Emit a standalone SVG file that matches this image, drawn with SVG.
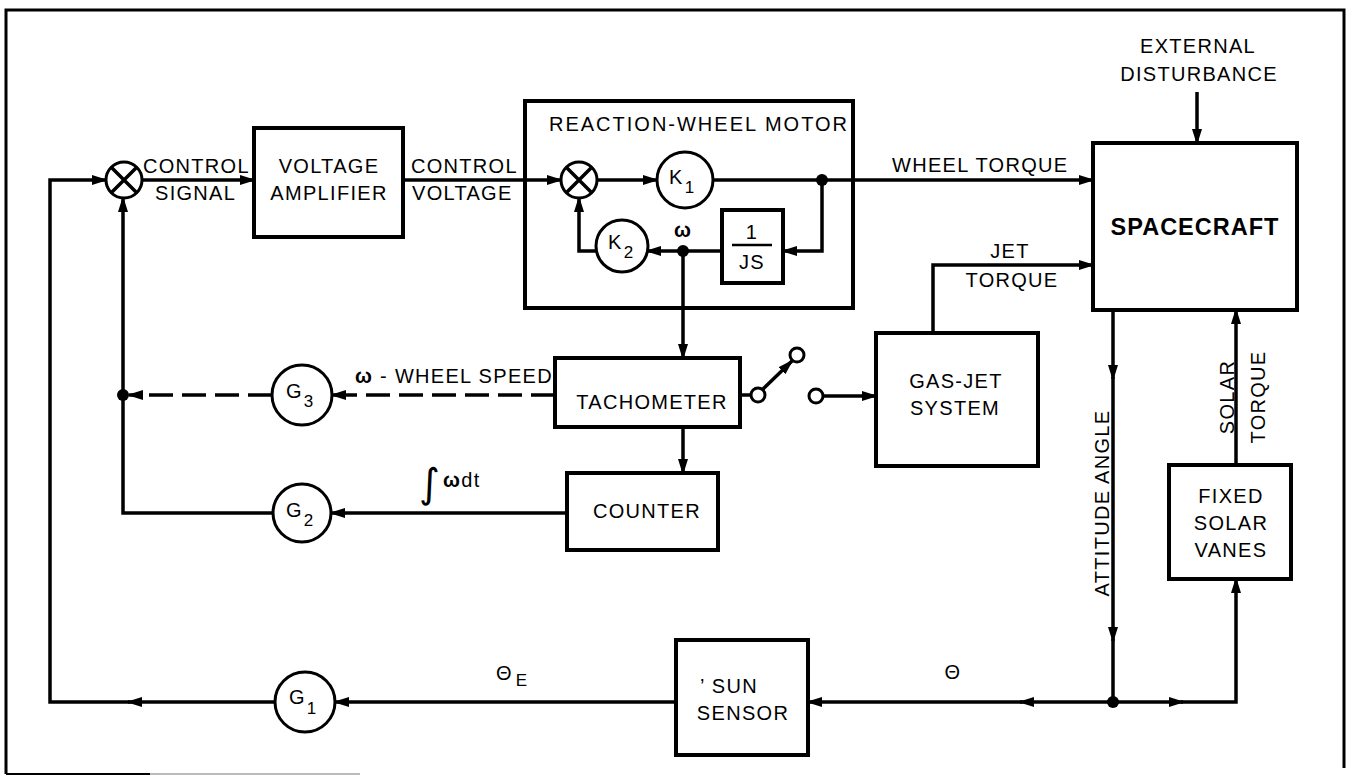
<svg xmlns="http://www.w3.org/2000/svg" width="1353" height="776" viewBox="0 0 1353 776">
<style>
.ln{fill:none;stroke:#000;stroke-width:3.5}
.dash{stroke-dasharray:24 9}
.box{fill:#fff;stroke:#000;stroke-width:4}
.cir{fill:#fff;stroke:#000;stroke-width:3}
.sw{fill:#fff;stroke:#000;stroke-width:3}
.t{font-family:"Liberation Sans",Arial,sans-serif;font-size:20px;letter-spacing:1.3px;fill:#000}
.c{text-anchor:middle}
.sub{font-size:17px}
.b{font-weight:bold}
</style>
<defs>
<marker id="a" viewBox="0 0 16 12" refX="14" refY="6" markerWidth="16" markerHeight="12" markerUnits="userSpaceOnUse" orient="auto"><path d="M0,1 L16,6 L0,11 z" fill="#000"/></marker>
</defs>
<rect width="1353" height="776" fill="#fff"/>
<g id="frame">
<path d="M6,774 L6,10 L1344,10 L1344,768" fill="none" stroke="#000" stroke-width="3"/>
<line x1="6" y1="774" x2="150" y2="774" stroke="#000" stroke-width="2"/>
<line x1="150" y1="774" x2="360" y2="774" stroke="#bbb" stroke-width="2"/>
</g>
<g id="connectors">
<path class="ln" d="M275,702 L128,702" marker-end="url(#a)"/>
<path class="ln" d="M130,702 L50,702 L50,180 L106,180" marker-end="url(#a)"/>
<path class="ln" d="M142,180 L254,180" marker-end="url(#a)"/>
<path class="ln" d="M403,180 L561,180" marker-end="url(#a)"/>
<path class="ln" d="M597,180 L657,180" marker-end="url(#a)"/>
<path class="ln" d="M713,180 L1093,180" marker-end="url(#a)"/>
<path class="ln" d="M822,180 L822,251 L783,251" marker-end="url(#a)"/>
<path class="ln" d="M722,251 L647,251" marker-end="url(#a)"/>
<path class="ln" d="M597,251 L579,251 L579,198" marker-end="url(#a)"/>
<path class="ln" d="M683,251 L683,358" marker-end="url(#a)"/>
<path class="ln" d="M683,427 L683,473" marker-end="url(#a)"/>
<path class="ln" d="M740,395 L751,395"/>
<path class="ln" d="M763,389 L792,361" marker-end="url(#a)"/>
<path class="ln" d="M823,396 L876,396" marker-end="url(#a)"/>
<path class="ln" d="M933,333 L933,265 L1093,265" marker-end="url(#a)"/>
<path class="ln" d="M1197,92 L1197,143" marker-end="url(#a)"/>
<path class="ln" d="M1113,310 L1113,379" marker-end="url(#a)"/>
<path class="ln" d="M1113,377 L1113,641" marker-end="url(#a)"/>
<path class="ln" d="M1113,639 L1113,702"/>
<path class="ln" d="M1113,702 L1020,702" marker-end="url(#a)"/>
<path class="ln" d="M1022,702 L808,702" marker-end="url(#a)"/>
<path class="ln" d="M1113,702 L1183,702" marker-end="url(#a)"/>
<path class="ln" d="M1181,702 L1236,702 L1236,579" marker-end="url(#a)"/>
<path class="ln" d="M1236,465 L1236,310" marker-end="url(#a)"/>
<path class="ln" d="M676,702 L335,702" marker-end="url(#a)"/>
<path class="ln" d="M567,513 L331,513" marker-end="url(#a)"/>
<path class="ln" d="M273,513 L123,513 L123,198" marker-end="url(#a)"/>
<path class="ln dash" d="M555,395 L332,395" marker-end="url(#a)"/>
<path class="ln dash" d="M272,395 L129,395" marker-end="url(#a)"/>
<circle cx="822" cy="180" r="6"/>
<circle cx="683" cy="251" r="6"/>
<circle cx="123" cy="395" r="6"/>
<circle cx="1113" cy="702" r="6"/>
</g>
<g id="labels">
<text class="t" x="143" y="173">CONTROL</text>
<text class="t" x="155" y="200">SIGNAL</text>
<text class="t" x="411" y="173">CONTROL</text>
<text class="t" x="412" y="200">VOLTAGE</text>
<text class="t" x="892" y="172">WHEEL TORQUE</text>
<text class="t c" x="1010" y="258">JET</text>
<text class="t c" x="1012" y="287">TORQUE</text>
<text class="t c" x="1198" y="53">EXTERNAL</text>
<text class="t c" x="1199" y="81">DISTURBANCE</text>
<text class="t" x="355" y="383"><tspan class="b">ω</tspan> - WHEEL SPEED</text>
<text x="419" y="497" style="font-family:'DejaVu Sans',sans-serif;font-size:40px">∫</text>
<text class="t" x="443" y="487"><tspan class="b">ω</tspan>dt</text>
<text class="t" x="496" y="680">Θ<tspan class="sub" dx="3" dy="6">E</tspan></text>
<text class="t c" x="953" y="679">Θ</text>
<text class="t b c" x="683" y="237">ω</text>
<text class="t c" transform="translate(1109,503) rotate(-90)">ATTITUDE ANGLE</text>
<text class="t c" transform="translate(1234,397) rotate(-90)">SOLAR</text>
<text class="t c" transform="translate(1265,397) rotate(-90)">TORQUE</text>
</g>
<g id="sum1">
<circle class="cir" cx="124" cy="180" r="18"/>
<path class="ln" d="M111,167 L137,193 M137,167 L111,193" stroke-width="3"/>
</g>
<g id="voltage-amplifier">
<rect class="box" x="254" y="128" width="149" height="109"/>
<text class="t c" x="329" y="173">VOLTAGE</text>
<text class="t c" x="329" y="200">AMPLIFIER</text>
</g>
<g id="reaction-wheel-motor">
<rect class="box" x="525" y="101" width="328" height="207" style="fill:none"/>
<text class="t c" x="699" y="131" style="letter-spacing:2px">REACTION-WHEEL MOTOR</text>
</g>
<g id="sum2">
<circle class="cir" cx="579" cy="180" r="18"/>
<path class="ln" d="M566,167 L592,193 M592,167 L566,193" stroke-width="3"/>
</g>
<g id="k1">
<circle class="cir" cx="685" cy="180" r="28"/>
<text class="t" x="669" y="184">K<tspan class="sub" dx="1" dy="9">1</tspan></text>
</g>
<g id="k2">
<circle class="cir" cx="622" cy="246" r="26"/>
<text class="t" x="608" y="249">K<tspan class="sub" dx="1" dy="9">2</tspan></text>
</g>
<g id="one-over-js">
<rect class="box" x="722" y="210" width="61" height="73"/>
<text class="t c" x="752" y="239">1</text>
<line x1="732" y1="245" x2="772" y2="245" stroke="#000" stroke-width="2.5"/>
<text class="t c" x="752" y="269">JS</text>
</g>
<g id="spacecraft">
<rect class="box" x="1093" y="143" width="204" height="167"/>
<text class="t c b" x="1195" y="235" style="font-size:23.5px;letter-spacing:1px">SPACECRAFT</text>
</g>
<g id="tachometer">
<rect class="box" x="555" y="358" width="185" height="69"/>
<text class="t c" x="652" y="409">TACHOMETER</text>
</g>
<g id="switch">
<circle class="sw" cx="758" cy="395" r="7"/>
<circle class="sw" cx="797" cy="355" r="7"/>
<circle class="sw" cx="816" cy="396" r="7"/>
</g>
<g id="counter">
<rect class="box" x="567" y="473" width="151" height="77"/>
<text class="t c" x="647" y="518">COUNTER</text>
</g>
<g id="gas-jet">
<rect class="box" x="876" y="333" width="162" height="133"/>
<text class="t c" x="956" y="388">GAS-JET</text>
<text class="t c" x="955" y="415">SYSTEM</text>
</g>
<g id="g3">
<circle class="cir" cx="302" cy="395" r="30"/>
<text class="t" x="286" y="398">G<tspan class="sub" dx="1" dy="9">3</tspan></text>
</g>
<g id="g2">
<circle class="cir" cx="302" cy="513" r="29"/>
<text class="t" x="286" y="517">G<tspan class="sub" dx="1" dy="9">2</tspan></text>
</g>
<g id="g1">
<circle class="cir" cx="305" cy="702" r="30"/>
<text class="t" x="289" y="704">G<tspan class="sub" dx="1" dy="10">1</tspan></text>
</g>
<g id="sun-sensor">
<rect class="box" x="676" y="640" width="132" height="115"/>
<text class="t" x="700" y="693">’ SUN</text>
<text class="t c" x="743" y="720">SENSOR</text>
</g>
<g id="fixed-solar-vanes">
<rect class="box" x="1169" y="465" width="122" height="114"/>
<text class="t c" x="1231" y="503">FIXED</text>
<text class="t c" x="1231" y="530">SOLAR</text>
<text class="t c" x="1231" y="557">VANES</text>
</g>
</svg>
